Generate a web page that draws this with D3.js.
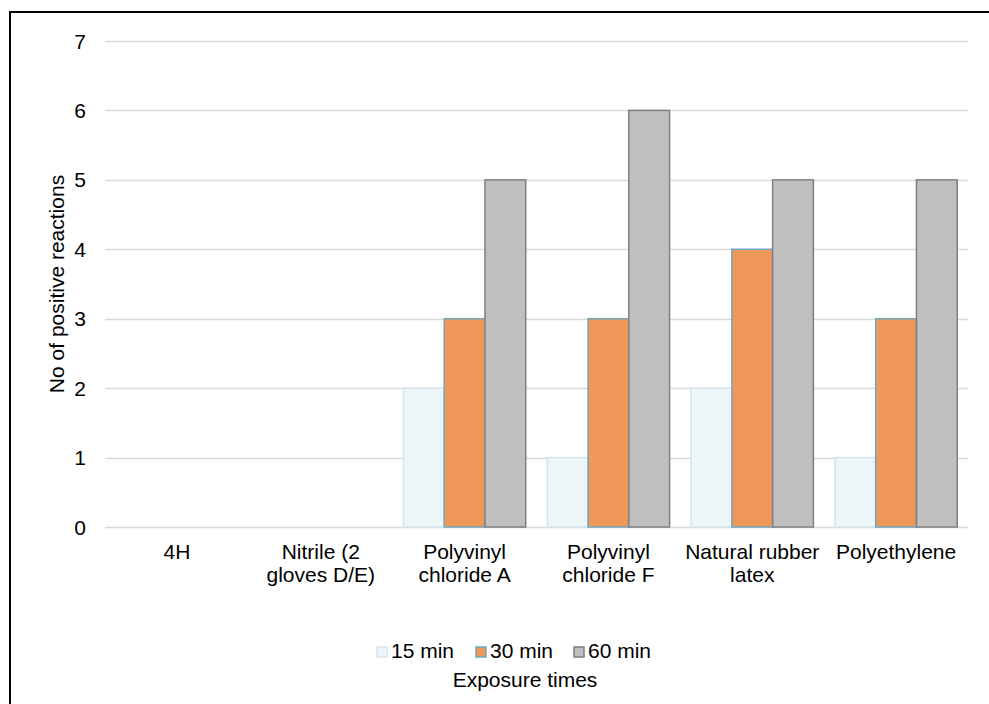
<!DOCTYPE html>
<html>
<head>
<meta charset="utf-8">
<script src="https://cdn.jsdelivr.net/npm/d3@7"></script>
<style>
	body {margin:0; background:#fff;}
	text {font-family:"Liberation Sans", Arial, sans-serif; fill:#000;}
</style>
</head>
<body>
<div id="chart"></div>
<script>
// data
var categories = [["4H"], ["Nitrile (2", "gloves D/E)"], ["Polyvinyl", "chloride A"],
	["Polyvinyl", "chloride F"], ["Natural rubber", "latex"], ["Polyethylene"]]
var series = ["15 min", "30 min", "60 min"]
var min15 = [0, 0, 2, 1, 2, 1]
var min30 = [0, 0, 3, 3, 4, 3]
var min60 = [0, 0, 5, 6, 5, 5]
var yTicks = [0, 1, 2, 3, 4, 5, 6, 7]

var fills = ["#eef5f8", "#f0975a", "#bfbfbf"]
var strokes = ["#d3e5ec", "#6fa6c0", "#7f7f7f"]

var W = 989, H = 704
var margins = {top: 41, right: 21, bottom: 177, left: 105}
var fs = "21px"

var svg = d3.select("#chart").append("svg")
	.attr("width", W)
	.attr("height", H)

// outer frame (right/bottom fall outside the picture)
svg.append("rect")
	.attr("x", 10).attr("y", 12)
	.attr("width", W + 20).attr("height", H + 20)
	.attr("fill", "none").attr("stroke", "#000").attr("stroke-width", 2)

var vals = [min15, min30, min60]
var rows = categories.map(function(c, i){
	return {label: c, v: series.map(function(s, j){ return {s: s, j: j, v: vals[j][i]} })}
})

var x0 = d3.scaleBand()
	.domain(d3.range(categories.length))
	.range([margins.left, W - margins.right])

var gap = x0.bandwidth() * 0.075
var x1 = d3.scaleBand()
	.domain(series)
	.range([gap, x0.bandwidth() - gap])

var y = d3.scaleLinear()
	.domain([0, 7])
	.range([H - margins.bottom, margins.top])

// gridlines
svg.append("g").selectAll("line")
	.data(yTicks)
	.enter().append("line")
		.attr("x1", margins.left).attr("x2", W - margins.right)
		.attr("y1", function(d){ return Math.round(y(d)) + 0.5 })
		.attr("y2", function(d){ return Math.round(y(d)) + 0.5 })
		.attr("stroke", "#d9d9d9").attr("stroke-width", 1.5)

// y tick labels
svg.append("g").selectAll("text")
	.data(yTicks)
	.enter().append("text")
		.attr("x", 86)
		.attr("y", function(d){ return y(d) })
		.attr("dy", "0.36em")
		.attr("text-anchor", "end")
		.style("font-size", fs)
		.text(function(d){ return d })

// bars
var groups = svg.append("g").selectAll("g")
	.data(rows)
	.enter().append("g")
		.attr("transform", function(d, i){ return "translate(" + x0(i) + ",0)" })

groups.selectAll("rect")
	.data(function(d){ return d.v.filter(function(e){ return e.v > 0 }) })
	.enter().append("rect")
		.attr("x", function(d){ return x1(d.s) })
		.attr("y", function(d){ return y(d.v) })
		.attr("width", x1.bandwidth())
		.attr("height", function(d){ return y(0) - y(d.v) })
		.attr("fill", function(d){ return fills[d.j] })
		.attr("stroke", function(d){ return strokes[d.j] })
		.attr("stroke-width", 1.5)

// category labels
var cat = svg.append("g").selectAll("text")
	.data(categories)
	.enter().append("text")
		.attr("text-anchor", "middle")
		.attr("x", function(d, i){ return x0(i) + x0.bandwidth() / 2 })
		.attr("y", 559)
		.style("font-size", fs)

cat.selectAll("tspan")
	.data(function(d){ return d })
	.enter().append("tspan")
		.attr("x", function(){ return this.parentNode.getAttribute("x") })
		.attr("dy", function(d, i){ return i == 0 ? 0 : 23 })
		.text(function(d){ return d })

// y axis title
svg.append("text")
	.attr("transform", "translate(64," + (y(0) + y(7)) / 2 + ") rotate(-90)")
	.attr("text-anchor", "middle")
	.style("font-size", fs)
	.text("No of positive reactions")

// legend
var legX = [377, 476, 574]
var leg = svg.append("g").selectAll("g")
	.data(series)
	.enter().append("g")
		.attr("transform", function(d, i){ return "translate(" + legX[i] + ",647)" })

leg.append("rect")
	.attr("width", 10).attr("height", 10)
	.attr("fill", function(d, i){ return fills[i] })
	.attr("stroke", function(d, i){ return strokes[i] })
	.attr("stroke-width", 1.5)

leg.append("text")
	.attr("x", 14).attr("y", 11)
	.style("font-size", fs)
	.text(function(d){ return d })

svg.append("text")
	.attr("x", 525).attr("y", 687)
	.attr("text-anchor", "middle")
	.style("font-size", fs)
	.text("Exposure times")
</script>
</body>
</html>
